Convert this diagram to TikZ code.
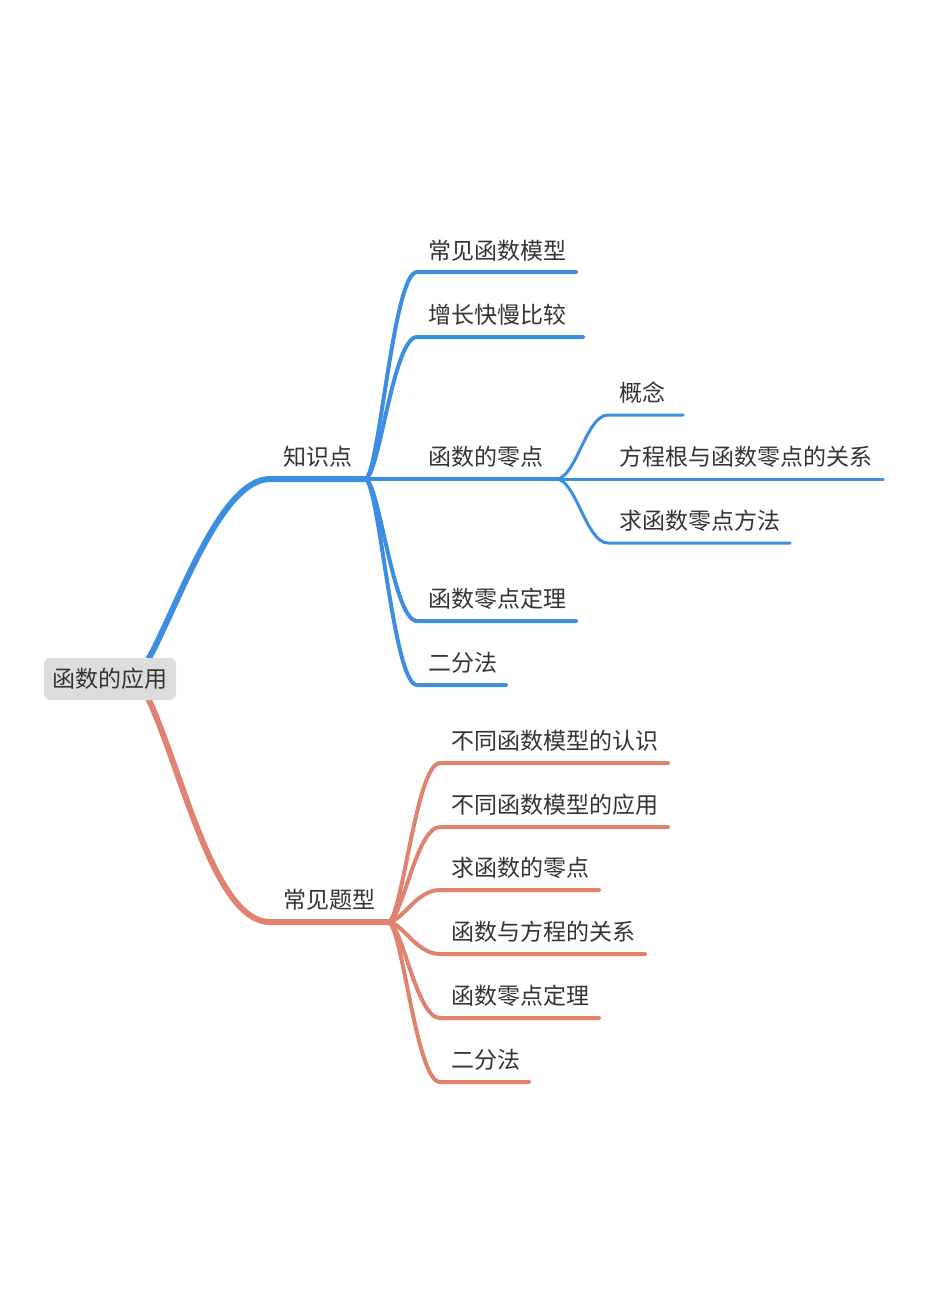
\documentclass[tikz,border=0pt]{standalone}
\usepackage{fontspec}
\setmainfont{Noto Sans CJK SC}
\definecolor{mblue}{RGB}{61,142,224}
\definecolor{morange}{RGB}{224,130,112}
\definecolor{txt}{RGB}{51,51,51}
\definecolor{rootfill}{RGB}{221,221,221}
\begin{document}
\begin{tikzpicture}[x=1pt,y=-1pt,
  lbl/.style={anchor=west, inner sep=0pt, text=txt, font=\fontsize{23}{23}\selectfont},
  rootbox/.style={fill=rootfill, rounded corners=6pt, minimum width=132pt, minimum height=42pt, inner sep=0pt, text=txt, font=\fontsize{23}{23}\selectfont},
  main/.style={line width=6pt, line cap=round},
  sub/.style={line width=4pt, line cap=round},
  subsub/.style={line width=3pt, line cap=round}]
\useasboundingbox (0,0) rectangle (926,1312);

% root
\coordinate (rt) at (148,660);
\coordinate (rb) at (148,698);

% ---------- blue branch ----------
\coordinate (k0) at (270,479);
\coordinate (k1) at (365,479);
\draw[main, draw=mblue] (rt) .. controls (178,606) and (220,479) .. (k0) -- (k1);
\node[lbl] (kz) at (283,457) {知识点};

\foreach \n/\y/\xe in {a/272/576, b/337/583, d/621/576, e/685/506}{
  \coordinate (s\n) at (417,\y);
  \coordinate (t\n) at (\xe,\y);
  \draw[sub, draw=mblue] (k1) .. controls +(14,0) and +(-24,0) .. (s\n) -- (t\n);
}
\coordinate (tc) at (556,479);
\draw[sub, draw=mblue] (k1) -- (tc);

\node[lbl] (na) at (428,251) {常见函数模型};
\node[lbl] (nb) at (428,315) {增长快慢比较};
\node[lbl] (nc) at (428,457) {函数的零点};
\node[lbl] (nd) at (428,599) {函数零点定理};
\node[lbl] (ne) at (428,663) {二分法};

% grandchildren
\foreach \n/\y/\xe in {p/415/683, r/543/790}{
  \coordinate (s\n) at (608,\y);
  \coordinate (t\n) at (\xe,\y);
  \draw[subsub, draw=mblue] (tc) .. controls +(20,0) and +(-22,0) .. (s\n) -- (t\n);
}
\coordinate (tq) at (883,479);
\draw[subsub, draw=mblue] (tc) -- (tq);

\node[lbl] (np) at (619,393) {概念};
\node[lbl] (nq) at (619,457) {方程根与函数零点的关系};
\node[lbl] (nr) at (619,521) {求函数零点方法};

% ---------- orange branch ----------
\coordinate (c0) at (270,922);
\coordinate (c1) at (388,922);
\draw[main, draw=morange] (rb) .. controls (182,770) and (214,922) .. (c0) -- (c1);
\node[lbl] (cz) at (283,900) {常见题型};

\foreach \n/\y/\xe in {u/763/668, v/827/668, w/890/599, x/954/645, y/1018/599, z/1082/529}{
  \coordinate (s\n) at (440,\y);
  \coordinate (t\n) at (\xe,\y);
  \draw[sub, draw=morange] (c1) .. controls +(14,0) and +(-24,0) .. (s\n) -- (t\n);
}
\node[lbl] (nu) at (451,741) {不同函数模型的认识};
\node[lbl] (nv) at (451,805) {不同函数模型的应用};
\node[lbl] (nw) at (451,868) {求函数的零点};
\node[lbl] (nx) at (451,932) {函数与方程的关系};
\node[lbl] (ny) at (451,996) {函数零点定理};
\node[lbl] (nz) at (451,1060) {二分法};

% root box drawn last, over the branch ends
\node[rootbox] (root) at (110,679) {函数的应用};
\end{tikzpicture}
\end{document}
